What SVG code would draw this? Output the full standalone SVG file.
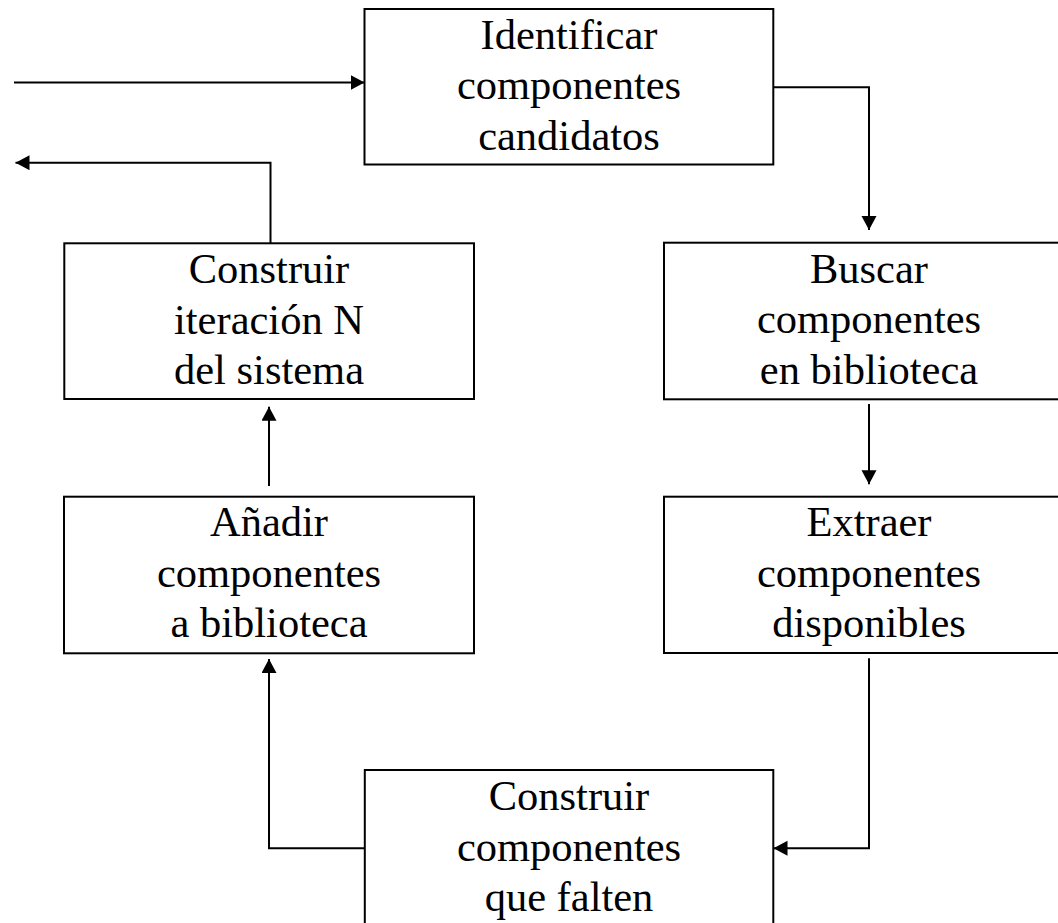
<svg xmlns="http://www.w3.org/2000/svg" width="1058" height="923" viewBox="0 0 1058 923">
  <style>
    .box { fill: #ffffff; stroke: #000000; stroke-width: 2; }
    .label { font-family: "Liberation Serif", "Times New Roman", serif; font-size: 42.5px; fill: #000000; text-anchor: middle; }
    .conn { fill: none; stroke: #000000; stroke-width: 2; marker-end: url(#arrow); }
  </style>
  <defs>
    <marker id="arrow" markerUnits="userSpaceOnUse" markerWidth="15" markerHeight="16" refX="14" refY="7.5" orient="auto">
      <path d="M0,0 L14,7.5 L0,15 Z" fill="#000000"/>
    </marker>
  </defs>

  <rect width="1058" height="923" fill="#ffffff"/>

  <!-- connectors -->
  <g id="connectors">
    <path class="conn" d="M14,82.5 H364.5"/>
    <path class="conn" d="M270.5,243.3 V162.7 H15.5"/>
    <path class="conn" d="M773.3,87.3 H869 V230"/>
    <path class="conn" d="M869,404 V484.3"/>
    <path class="conn" d="M269,486 V406.7"/>
    <path class="conn" d="M869,658.3 V848.3 H773.5"/>
    <path class="conn" d="M364.8,848.3 H269 V659"/>
  </g>

  <!-- Identificar componentes candidatos -->
  <g id="identificar">
    <rect class="box" x="364.5" y="9" width="408.8" height="155.5"/>
    <text class="label" x="569" y="48.5">Identificar</text>
    <text class="label" x="569" y="99">componentes</text>
    <text class="label" x="569" y="149.5">candidatos</text>
  </g>

  <!-- Construir iteración N del sistema -->
  <g id="construir-iteracion">
    <rect class="box" x="64.3" y="243.3" width="409.7" height="155.7"/>
    <text class="label" x="269" y="283">Construir</text>
    <text class="label" x="269" y="333.5">iteración N</text>
    <text class="label" x="269" y="384">del sistema</text>
  </g>

  <!-- Buscar componentes en biblioteca -->
  <g id="buscar">
    <rect class="box" x="664" y="242.7" width="410" height="156.6"/>
    <text class="label" x="869" y="282.5">Buscar</text>
    <text class="label" x="869" y="333">componentes</text>
    <text class="label" x="869" y="383.5">en biblioteca</text>
  </g>

  <!-- Añadir componentes a biblioteca -->
  <g id="anadir">
    <rect class="box" x="64" y="496.7" width="410" height="156.6"/>
    <text class="label" x="269" y="536">Añadir</text>
    <text class="label" x="269" y="586.5">componentes</text>
    <text class="label" x="269" y="637">a biblioteca</text>
  </g>

  <!-- Extraer componentes disponibles -->
  <g id="extraer">
    <rect class="box" x="664" y="496.7" width="410" height="156.3"/>
    <text class="label" x="869" y="536">Extraer</text>
    <text class="label" x="869" y="586.5">componentes</text>
    <text class="label" x="869" y="637">disponibles</text>
  </g>

  <!-- Construir componentes que falten -->
  <g id="construir-componentes">
    <rect class="box" x="364.8" y="770" width="408.5" height="160"/>
    <text class="label" x="569" y="810">Construir</text>
    <text class="label" x="569" y="860.5">componentes</text>
    <text class="label" x="569" y="911">que falten</text>
  </g>
</svg>
